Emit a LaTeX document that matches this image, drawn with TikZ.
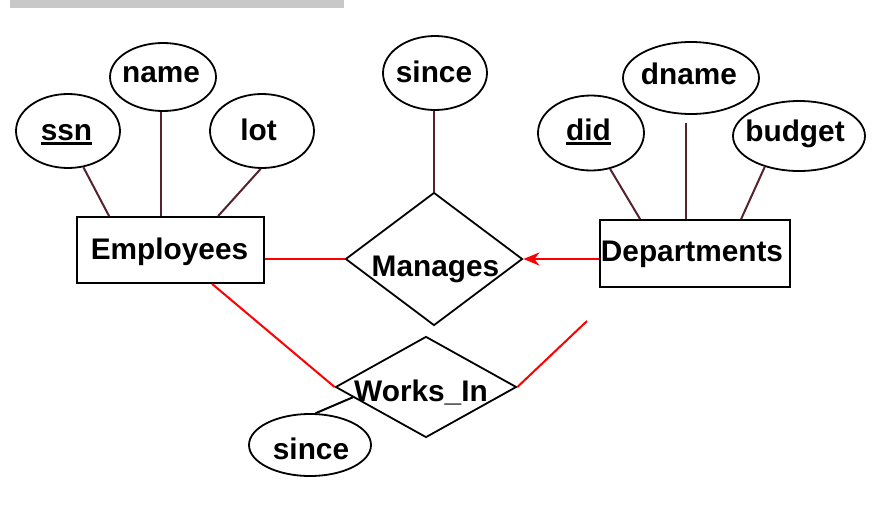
\documentclass[tikz,border=0pt]{standalone}
\usepackage{fontspec}
\setmainfont{Liberation Sans}
\usetikzlibrary{shapes.geometric,arrows.meta,calc}
\definecolor{attr}{RGB}{85,35,45}
\definecolor{barg}{RGB}{200,200,200}
\newcommand\keyul[1]{\setbox0\hbox{#1}\rlap{\rule[-4.5pt]{\wd0}{2.2pt}}\box0}
\begin{document}
\begin{tikzpicture}[x=1pt,y=-1pt,
  attrshape/.style={ellipse,draw,line width=1.8pt,inner sep=0pt},
  entshape/.style={rectangle,draw,line width=1.8pt,inner sep=0pt},
  relshape/.style={diamond,draw,line width=1.8pt,inner sep=0pt},
  lbl/.style={anchor=base,inner sep=0pt,font=\fontsize{29.8}{34}\selectfont\bfseries},
  attrline/.style={draw=attr,line width=2pt},
  relline/.style={draw=red,line width=2pt},
]
\useasboundingbox (0,0) rectangle (889,506);
\fill[barg] (10,0) rectangle (344,7.5);

% shapes
\node[attrshape,minimum width=104pt,minimum height=74pt] (ssn) at (68,131) {};
\node[attrshape,minimum width=106pt,minimum height=68pt] (name) at (163,77) {};
\node[attrshape,minimum width=104pt,minimum height=74pt] (lot) at (262,131) {};
\node[entshape,minimum width=187pt,minimum height=66pt] (emp) at (170.5,250) {};
\node[attrshape,minimum width=104pt,minimum height=74pt] (msince) at (435,73) {};
\node[relshape,minimum width=177pt,minimum height=133pt] (manages) at (434,259) {};
\node[attrshape,minimum width=106pt,minimum height=75pt] (did) at (591,133) {};
\node[attrshape,minimum width=136pt,minimum height=72pt] (dname) at (691,78) {};
\node[attrshape,minimum width=132pt,minimum height=70pt] (budget) at (799,136) {};
\node[entshape,minimum width=190pt,minimum height=67pt] (dept) at (695,253.5) {};
\node[relshape,minimum width=181pt,minimum height=101pt] (works) at (426,387) {};
\node[attrshape,minimum width=122pt,minimum height=62pt] (wsince) at (310,445) {};
\coordinate (free) at (587,321);

% labels
\node[lbl] (ssnt) at (66.5,140) {\keyul{ssn}};
\node[lbl] (namet) at (161,82) {name};
\node[lbl] (lott) at (258.5,140) {lot};
\node[lbl] (empt) at (169.5,259) {Employees};
\node[lbl] (msincet) at (434,82) {since};
\node[lbl] (managest) at (435.5,276) {Manages};
\node[lbl] (didt) at (588.5,140) {\keyul{did}};
\node[lbl] (dnamet) at (689,84) {dname};
\node[lbl] (budgett) at (795,141) {budget};
\node[lbl] (deptt) at (692,261) {Departments};
\node[lbl] (workst) at (421,401) {Works\_In};
\node[lbl] (wsincet) at (311,459) {since};

% attribute connectors
\draw[attrline] (ssn.-67) -- ([xshift=33pt]emp.north west);
\draw[attrline] ([xshift=-2.5pt]name.south) -- ([xshift=-2.5pt]name.south |- emp.north);
\draw[attrline] (lot.-92) -- ([xshift=142pt]emp.north west);
\draw[attrline] (manages.north |- msince.south) -- (manages.north);
\draw[attrline] (did.-62) -- ([xshift=41pt]dept.north west);
\draw[attrline] ([xshift=-5pt,yshift=-8pt]dname.south) -- ([xshift=-5pt]dname.south |- dept.north);
\draw[attrline] (budget.-138) -- ([xshift=142pt]dept.north west);
\draw[line width=2pt] (wsince.80) -- ($(works.west)!0.2!(works.south)$);

% relationship connectors
\draw[relline] (manages.west -| emp.east) -- (manages.west);
\draw[relline,-{Stealth[length=16pt,width=13pt,inset=5pt]}] (manages.east -| dept.west) -- (manages.east);
\draw[relline] ([xshift=136pt]emp.south west) -- (works.west);
\draw[relline] (works.east) -- (free);
\end{tikzpicture}
\end{document}
